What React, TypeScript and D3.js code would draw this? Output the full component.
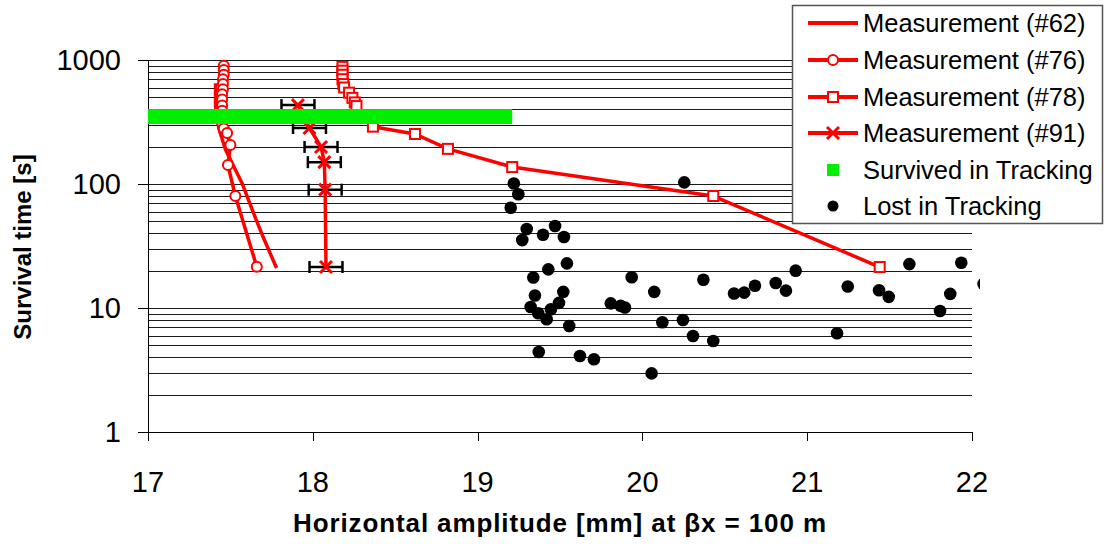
import React from "react";
import * as d3 from "d3";

// ---- Data ----
const xTicks = [17, 18, 19, 20, 21, 22];
const yTicks = [1, 10, 100, 1000];

const meas62: [number, number][] = [
  [17.41, 650], [17.41, 420], [17.43, 280], [17.47, 190], [17.57, 102],
  [17.65, 54], [17.70, 37], [17.78, 21],
];
const meas76: [number, number][] = [
  [17.46, 900], [17.46, 830], [17.46, 760], [17.455, 700], [17.455, 640],
  [17.455, 580], [17.45, 530], [17.45, 480], [17.45, 430], [17.45, 390],
  [17.45, 350], [17.45, 310], [17.46, 280], [17.48, 258], [17.50, 206],
  [17.485, 142], [17.53, 80], [17.66, 21.5],
];
const meas78: [number, number][] = [
  [18.18, 880], [18.18, 820], [18.18, 760], [18.18, 700], [18.185, 640],
  [18.19, 600], [18.22, 545], [18.24, 495], [18.255, 455], [18.265, 425],
  [18.365, 290], [18.62, 253], [18.82, 192], [19.21, 137], [20.43, 80],
  [21.44, 21.4],
];
const meas91: [number, number][] = [
  [17.91, 433], [17.98, 283], [18.05, 199], [18.07, 150], [18.075, 90],
  [18.08, 21.4],
];
const meas91Err = [0.1, 0.1, 0.1, 0.1, 0.1, 0.1];

const survivedRange = [17.0, 19.21];
const survivedTime = 350;

const lost: [number, number][] = [
  [19.22, 101], [19.247, 82.6], [19.201, 64.4], [19.298, 43.4], [19.271, 35.3],
  [19.397, 39.0], [19.47, 45.8], [19.524, 37.4], [19.542, 22.9], [19.429, 20.5],
  [19.338, 17.6], [19.348, 12.6], [19.52, 13.5], [19.494, 11.0], [19.322, 10.2],
  [19.445, 9.76], [19.368, 9.06], [19.419, 8.11], [19.556, 7.16], [19.808, 10.9],
  [19.868, 10.4], [19.894, 10.1], [19.935, 17.7], [19.371, 4.42], [19.621, 4.10],
  [19.706, 3.86], [20.254, 103], [20.072, 13.5], [20.37, 16.9], [20.121, 7.67],
  [20.246, 8.0], [20.307, 5.95], [20.43, 5.42], [20.056, 2.97], [20.556, 13.1],
  [20.618, 13.3], [20.683, 15.1], [20.809, 15.9], [20.871, 13.8], [20.93, 20.0],
  [21.181, 6.25], [21.246, 14.9], [21.62, 22.6], [21.935, 23.2], [21.436, 13.9],
  [21.495, 12.3], [21.868, 13.0], [21.806, 9.46], [22.07, 15.6],
];

const legendLabels = [
  "Measurement (#62)",
  "Measurement (#76)",
  "Measurement (#78)",
  "Measurement (#91)",
  "Survived in Tracking",
  "Lost in Tracking",
];

// ---- Styles ----
const RED = "#ff0000";
const GREEN = "#00ee00";
const FONT = "Arial, 'Liberation Sans', sans-serif";

const W = 1104;
const H = 546;
const x = d3.scaleLinear().domain([17, 22]).range([148, 972]);
const y = d3.scaleLog().domain([1, 1000]).range([432, 60]);

const line = d3
  .line<[number, number]>()
  .x((d) => x(d[0]))
  .y((d) => y(d[1]));

function Circle({ cx, cy }: { cx: number; cy: number }) {
  return <circle cx={cx} cy={cy} r={5} fill="white" stroke={RED} strokeWidth={2} />;
}
function Square({ cx, cy }: { cx: number; cy: number }) {
  return <rect x={cx - 5} y={cy - 5} width={10} height={10} fill="white" stroke={RED} strokeWidth={2} />;
}
function Cross({ cx, cy }: { cx: number; cy: number }) {
  const s = 6;
  return (
    <g stroke={RED} strokeWidth={3}>
      <line x1={cx - s} y1={cy - s} x2={cx + s} y2={cy + s} />
      <line x1={cx - s} y1={cy + s} x2={cx + s} y2={cy - s} />
    </g>
  );
}

export default function App() {
  const gridVals: number[] = [];
  [1, 10, 100].forEach((d) => {
    for (let k = 1; k <= 9; k++) gridVals.push(k * d);
  });
  gridVals.push(1000);

  const legendY = [23, 60, 97, 133, 170, 206];

  return (
    <svg
      width={W}
      height={H}
      style={{ position: "absolute", left: 0, top: 0, background: "white" }}
      fontFamily={FONT}
    >
      <defs>
        <clipPath id="plotclip">
          <rect x={0} y={0} width={980} height={H} />
        </clipPath>
      </defs>
      <rect x={0} y={0} width={W} height={H} fill="white" />

      {/* gridlines */}
      <g shapeRendering="crispEdges">
        {gridVals.map((v) => (
          <line key={v} x1={148} x2={972} y1={Math.round(y(v)) + 0.5} y2={Math.round(y(v)) + 0.5} stroke="#1a1a1a" strokeWidth={1} />
        ))}
      </g>

      {/* axes */}
      <g shapeRendering="crispEdges" stroke="black" strokeWidth={1}>
        <line x1={148.5} x2={148.5} y1={60} y2={432} />
        <line x1={148} x2={972} y1={432.5} y2={432.5} />
        {yTicks.map((v) => (
          <line key={"yt" + v} x1={138} x2={148} y1={Math.round(y(v)) + 0.5} y2={Math.round(y(v)) + 0.5} />
        ))}
        {xTicks.map((v) => (
          <line key={"xt" + v} x1={Math.round(x(v)) + 0.5} x2={Math.round(x(v)) + 0.5} y1={432} y2={441} />
        ))}
      </g>

      {/* tick labels */}
      {yTicks.map((v) => (
        <text key={"yl" + v} x={121} y={y(v) + 10} fontSize={29} textAnchor="end" fill="black">
          {v}
        </text>
      ))}
      {xTicks.map((v) => (
        <text key={"xl" + v} x={x(v)} y={492} fontSize={29} textAnchor="middle" fill="black">
          {v}
        </text>
      ))}

      {/* axis titles */}
      <text
        x={293}
        y={532}
        fontSize={26}
        fontWeight="bold"
        fill="black"
        textLength={533}
        lengthAdjust="spacing"
      >
        Horizontal amplitude [mm] at βx = 100 m
      </text>
      <text
        transform={`translate(31,247) rotate(-90)`}
        fontSize={24}
        fontWeight="bold"
        fill="black"
        textAnchor="middle"
      >
        Survival time [s]
      </text>

      <g clipPath="url(#plotclip)">
        {/* error bars for #91 */}
        <g stroke="black" strokeWidth={2.5}>
          {meas91.map((d, i) => {
            const x0 = x(d[0] - meas91Err[i]);
            const x1 = x(d[0] + meas91Err[i]);
            const cy = y(d[1]);
            return (
              <g key={"eb" + i}>
                <line x1={x0} x2={x1} y1={cy} y2={cy} />
                <line x1={x0} x2={x0} y1={cy - 6} y2={cy + 6} />
                <line x1={x1} x2={x1} y1={cy - 6} y2={cy + 6} />
              </g>
            );
          })}
        </g>

        {/* lines */}
        <path d={line(meas62) || ""} fill="none" stroke={RED} strokeWidth={3.5} strokeLinejoin="round" />
        <path d={line(meas76) || ""} fill="none" stroke={RED} strokeWidth={3.5} strokeLinejoin="round" />
        <path d={line(meas78) || ""} fill="none" stroke={RED} strokeWidth={3.5} strokeLinejoin="round" />
        <path d={line(meas91) || ""} fill="none" stroke={RED} strokeWidth={3.5} strokeLinejoin="round" />

        {meas76.map((d, i) => (
          <Circle key={"c" + i} cx={x(d[0])} cy={y(d[1])} />
        ))}
        {meas78.map((d, i) => (
          <Square key={"s" + i} cx={x(d[0])} cy={y(d[1])} />
        ))}
        {meas91.map((d, i) => (
          <Cross key={"x" + i} cx={x(d[0])} cy={y(d[1])} />
        ))}

        {/* survived band */}
        <rect
          x={x(survivedRange[0])}
          y={y(survivedTime) - 7.5}
          width={x(survivedRange[1]) - x(survivedRange[0])}
          height={15}
          fill={GREEN}
        />

        {/* lost points */}
        {lost.map((d, i) => (
          <circle key={"l" + i} cx={x(d[0])} cy={y(d[1])} r={6.3} fill="black" />
        ))}
      </g>

      {/* legend */}
      <rect x={792.5} y={5.5} width={310} height={218} fill="white" stroke="#555" strokeWidth={1.5} />
      {legendLabels.map((lab, i) => {
        const cy = legendY[i];
        return (
          <g key={"lg" + i}>
            {i < 4 && <line x1={808} x2={858} y1={cy} y2={cy} stroke={RED} strokeWidth={4} />}
            {i === 1 && <Circle cx={833} cy={cy} />}
            {i === 2 && <Square cx={833} cy={cy} />}
            {i === 3 && <Cross cx={833} cy={cy} />}
            {i === 4 && <rect x={827} y={cy - 6} width={12} height={12} fill={GREEN} />}
            {i === 5 && <circle cx={833} cy={cy} r={5.5} fill="black" />}
            <text x={863} y={cy + 9} fontSize={25.5} fill="black">
              {lab}
            </text>
          </g>
        );
      })}
    </svg>
  );
}
